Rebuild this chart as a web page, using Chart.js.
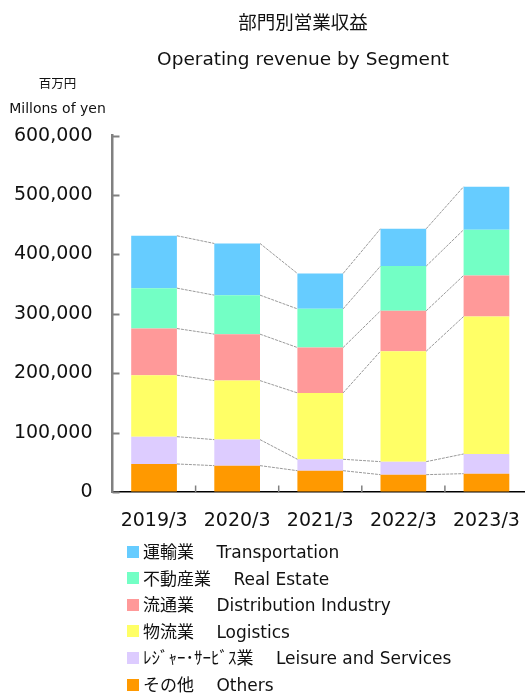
<!DOCTYPE html>
<html>
<head>
<meta charset="utf-8">
<script src="https://cdn.jsdelivr.net/npm/chart.js@4/dist/chart.umd.min.js"></script>
<style>
  html, body { margin: 0; padding: 0; background: #fff; overflow: hidden; width: 525px; height: 693px; }
  #wrap { position: relative; width: 525px; height: 693px; overflow: hidden; }
  canvas { position: absolute; left: 0; top: 0; }
  .txt { position: absolute; white-space: nowrap; color: #111; font-family: "DejaVu Sans", "Noto Sans CJK JP", sans-serif; }
  #t1 { left: 303px; top: 21px; transform: translate(-50%, -50%); font-size: 18.5px; font-family: "Noto Sans CJK JP", sans-serif; }
  #t2 { left: 303px; top: 58px; transform: translate(-50%, -50%); font-size: 18.5px; }
  #u1 { left: 57.5px; top: 82px; transform: translate(-50%, -50%); font-size: 12.5px; font-family: "Noto Sans CJK JP", sans-serif; }
  #u2 { left: 57.5px; top: 108px; transform: translate(-50%, -50%); font-size: 14px; }
  #legend { position: absolute; left: 127px; top: 536.7px; }
  .row { position: relative; height: 26.6px; }
  .box { position: absolute; left: 0; top: 9px; width: 12.3px; height: 12px; }
  .lab { position: absolute; left: 16px; top: 13.3px; transform: translateY(-50%); font-size: 17px; white-space: pre; color: #111; font-family: "DejaVu Sans", "Noto Sans CJK JP", sans-serif; }
</style>
</head>
<body>
<div id="wrap">
  <canvas id="c" width="528" height="693" style="width:528px;height:693px"></canvas>
  <div class="txt" id="t1">部門別営業収益</div>
  <div class="txt" id="t2">Operating revenue by Segment</div>
  <div class="txt" id="u1">百万円</div>
  <div class="txt" id="u2">Millons of yen</div>
  <div id="legend"></div>
</div>
<script>
// ---- data (millions of yen) ----
const categories = ['2019/3', '2020/3', '2021/3', '2022/3', '2023/3'];
const others         = [47200, 44400, 35900, 29200, 30900];
const leisure        = [46000, 43800, 19200, 21900, 33100];
const logistics      = [103500, 99400, 111800, 186000, 231500];
const distribution   = [78600, 78200, 76400, 68000, 69100];
const realEstate     = [68000, 65700, 65100, 75300, 77000];
const transportation = [88200, 87000, 59600, 62900, 72500];
const yTickValues = [0, 100000, 200000, 300000, 400000, 500000, 600000];

const seriesLabels = [
  'その他　 Others',
  'ﾚｼﾞｬｰ･ｻｰﾋﾞｽ業　 Leisure and Services',
  '物流業　 Logistics',
  '流通業　 Distribution Industry',
  '不動産業　 Real Estate',
  '運輸業　 Transportation'
];
const seriesData = [others, leisure, logistics, distribution, realEstate, transportation];
const seriesColors = ['#FF9900', '#DDCCFF', '#FFFF66', '#FF9999', '#73FFC5', '#66CCFF'];

const datasets = seriesData.map((d, i) => ({
  label: seriesLabels[i],
  data: d,
  backgroundColor: seriesColors[i],
  borderWidth: 0,
  barPercentage: 0.55,
  categoryPercentage: 1.0
}));

// connector lines, inward ticks
const decorPlugin = {
  id: 'decor',
  afterDatasetsDraw(chart) {
    const ctx = chart.ctx;
    ctx.save();
    ctx.strokeStyle = '#9a9a9a';
    ctx.lineWidth = 1;
    ctx.setLineDash([3, 1]);
    chart.data.datasets.forEach((ds, di) => {
      const meta = chart.getDatasetMeta(di);
      for (let i = 0; i < meta.data.length - 1; i++) {
        const a = meta.data[i].getProps(['x', 'y', 'width'], true);
        const b = meta.data[i + 1].getProps(['x', 'y', 'width'], true);
        ctx.beginPath();
        ctx.moveTo(a.x + a.width / 2, a.y);
        ctx.lineTo(b.x - b.width / 2, b.y);
        ctx.stroke();
      }
    });
    ctx.setLineDash([]);
    // y ticks (inward)
    const ys = chart.scales.y;
    const area = chart.chartArea;
    ctx.strokeStyle = '#808080';
    ctx.lineWidth = 2;
    ys.ticks.forEach(t => {
      const y = Math.round(ys.getPixelForValue(t.value)) + 0.5;
      ctx.beginPath();
      ctx.moveTo(area.left, y);
      ctx.lineTo(area.left + 7, y);
      ctx.stroke();
    });
    // x ticks between categories (inward)
    const meta0 = chart.getDatasetMeta(0);
    ctx.lineWidth = 1.5;
    for (let i = 0; i < meta0.data.length - 1; i++) {
      const x = (meta0.data[i].x + meta0.data[i + 1].x) / 2;
      ctx.beginPath();
      ctx.moveTo(x, area.bottom);
      ctx.lineTo(x, area.bottom - 6.5);
      ctx.stroke();
    }
    ctx.restore();
  }
};

new Chart(document.getElementById('c'), {
  type: 'bar',
  data: { labels: categories, datasets },
  options: {
    responsive: false,
    animation: false,
    layout: { padding: { top: 135.7, right: 0, bottom: 0, left: 0 } },
    plugins: {
      legend: { display: false },
      title: { display: false },
      tooltip: { enabled: false }
    },
    scales: {
      x: {
        stacked: true,
        grid: { display: true, drawOnChartArea: false, drawTicks: false, color: 'rgba(0,0,0,0)' },
        border: { display: true, color: '#000', width: 1.5 },
        ticks: { color: '#111', font: { family: 'DejaVu Sans', size: 19 }, padding: 18, maxRotation: 0, autoSkip: false },
        afterFit(scale) { scale.height = 201; scale.paddingLeft = 0; scale.paddingRight = 0; }
      },
      y: {
        stacked: true,
        min: 0,
        max: 600000,
        afterBuildTicks(scale) { scale.ticks = yTickValues.map(v => ({ value: v })); },
        grid: { display: true, drawOnChartArea: false, drawTicks: false, color: 'rgba(0,0,0,0)' },
        border: { display: true, color: '#808080', width: 2.5 },
        ticks: {
          color: '#111',
          font: { family: 'DejaVu Sans', size: 19 },
          padding: 20,
          callback: v => v.toLocaleString('en-US')
        },
        afterFit(scale) { scale.width = 112.5; }
      }
    }
  },
  plugins: [decorPlugin]
});

// legend (top series first)
const leg = document.getElementById('legend');
for (let i = seriesLabels.length - 1; i >= 0; i--) {
  const row = document.createElement('div');
  row.className = 'row';
  const box = document.createElement('div');
  box.className = 'box';
  box.style.background = seriesColors[i];
  const lab = document.createElement('div');
  lab.className = 'lab';
  lab.textContent = seriesLabels[i];
  row.appendChild(box);
  row.appendChild(lab);
  leg.appendChild(row);
}
</script>
</body>
</html>
